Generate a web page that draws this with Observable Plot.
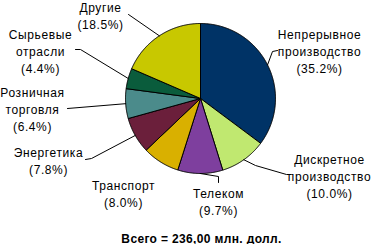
<!DOCTYPE html>
<html><head><meta charset="utf-8">
<script src="https://cdn.jsdelivr.net/npm/d3@7"></script>
<script src="https://cdn.jsdelivr.net/npm/@observablehq/plot@0.6"></script>
<style>body{margin:0;background:#fff} svg{display:block} svg text{letter-spacing:0.6px} svg text.total{letter-spacing:0.35px}</style>
</head><body><div id="chart"></div>
<script>
// ---- data ----
const categories = ["Непрерывное производство", "Дискретное производство", "Телеком", "Транспорт", "Энергетика", "Розничная торговля", "Сырьевые отрасли", "Другие"];
const labelLines = [["Непрерывное", "производство"], ["Дискретное", "производство"], ["Телеком"], ["Транспорт"], ["Энергетика"], ["Розничная", "торговля"], ["Сырьевые", "отрасли"], ["Другие"]];
const shares = [35.2, 10.0, 9.7, 8.0, 7.8, 6.4, 4.4, 18.5];
const colors = ["#003366", "#c0e870", "#7e3f9e", "#d9b000", "#6b1f3b", "#4b8b8b", "#0a5c3c", "#c8c800"];
const totalLabel = "Всего = 236,00 млн. долл.";

// ---- layout ----
const W = 372, H = 244, cx = 200, cy = 98, R = 75;
const labelAt = [[319, 50], [329, 175], [218, 201], [123, 193], [48, 160], [32, 108], [40, 50], [100, 15]];
const leaderVia = [[[272, 51], [277, 50]], [[255, 165], [286, 174], [290, 174]], [[218, 176], [218, 182]], null, [[91, 158], [85, 159]], [[67, 108]], [[80, 49], [75, 49]], [[128, 14]]];

const rows = categories.map((name, i) => ({name, value: shares[i], i}));
const arcs = d3.pie().sort(null).value(d => d.value).startAngle(0).endAngle(2 * Math.PI)(rows);
const pt = (a, r) => ({x: cx + r * Math.sin(a), y: cy - r * Math.cos(a)});

const slicePts = [];
for (const a of arcs) {
  const name = a.data.name;
  slicePts.push({name, ...pt(0, 0)});
  const n = Math.max(2, Math.ceil((a.endAngle - a.startAngle) / 0.01));
  for (let k = 0; k <= n; k++) {
    const ang = a.startAngle + (a.endAngle - a.startAngle) * k / n;
    slicePts.push({name, ...pt(ang, R)});
  }
  slicePts.push({name, ...pt(0, 0)});
}

const leaderPts = [];
arcs.forEach((a, i) => {
  if (!leaderVia[i]) return;
  const mid = (a.startAngle + a.endAngle) / 2;
  leaderPts.push({name: a.data.name, ...pt(mid, R)});
  for (const [x, y] of leaderVia[i]) leaderPts.push({name: a.data.name, x, y});
});

const labels = rows.map((d, i) => ({
  x: labelAt[i][0], y: labelAt[i][1],
  text: [...labelLines[i], `(${d.value.toFixed(1)}%)`].join("\n")
}));

const chart = Plot.plot({
  width: W, height: H, margin: 0,
  x: {domain: [0, W], range: [0, W], axis: null},
  y: {domain: [0, H], range: [0, H], axis: null},
  color: {domain: categories, range: colors},
  style: {fontFamily: "'Liberation Sans', Arial, sans-serif", fontSize: "12px", background: "white", overflow: "visible"},
  marks: [
    Plot.line(slicePts, {x: "x", y: "y", z: "name", fill: "name", stroke: "black", strokeWidth: 1, curve: "linear"}),
    Plot.line(leaderPts, {x: "x", y: "y", z: "name", stroke: "black", strokeWidth: 1, curve: "linear"}),
    Plot.text(labels, {x: "x", y: "y", text: "text", lineAnchor: "middle", lineHeight: 1.42, fill: "black", fontSize: 12}),
    Plot.text([totalLabel], {text: d => d, frameAnchor: "bottom", dx: 15, dy: -2, lineAnchor: "bottom", fontWeight: "bold", fontSize: 12, fill: "black", className: "total"})
  ]
});
chart.querySelectorAll(".total text").forEach(t => t.classList.add("total"));
document.getElementById("chart").append(chart);
</script>
</body></html>
